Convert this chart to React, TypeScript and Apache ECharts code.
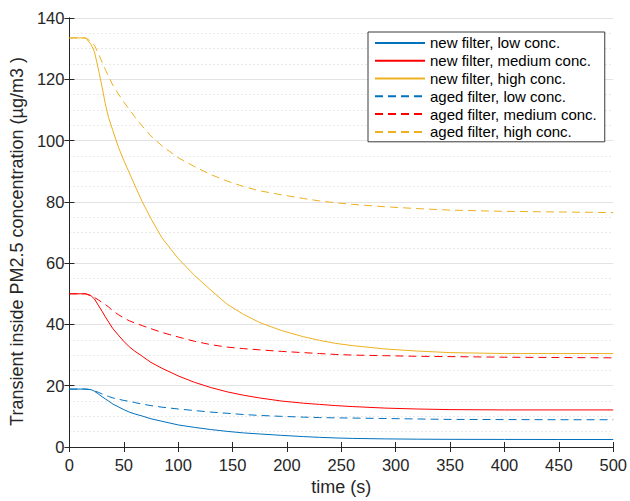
import React, { useEffect, useRef } from "react";
import * as echarts from "echarts";

const times = [0, 15, 20, 23, 27, 30, 33, 36, 40, 45, 50, 55, 60, 67, 75, 85, 100, 115, 130, 145, 160, 175, 195, 215, 230, 245, 260, 290, 320, 350, 400, 450, 500];
const newLow = [18.9, 18.9, 18.7, 18.2, 17.2, 16.4, 15.7, 15.0, 14.0, 13.1, 12.2, 11.4, 10.8, 10.1, 9.2, 8.4, 7.2, 6.4, 5.7, 5.1, 4.6, 4.25, 3.8, 3.4, 3.15, 2.95, 2.8, 2.65, 2.55, 2.5, 2.47, 2.45, 2.45];
const newMed = [50, 50, 49.3, 48.3, 46, 44.3, 42.5, 40.8, 38.6, 36.5, 34.5, 32.7, 31.3, 29.6, 27.6, 25.7, 23.2, 21.1, 19.4, 18, 16.9, 16, 15, 14.3, 13.9, 13.5, 13.2, 12.7, 12.4, 12.2, 12.1, 12.1, 12.1];
const newHigh = [133.5, 133.5, 131.3, 129, 122.7, 117.5, 112, 107.5, 103.2, 97.9, 93.5, 89.5, 85.5, 80, 74.5, 68.3, 61.5, 56, 51.2, 46.6, 43.3, 40.6, 38, 36, 34.8, 33.8, 33.1, 32, 31.3, 30.8, 30.5, 30.5, 30.5];
const agedLow = [18.9, 18.9, 18.7, 18.3, 17.8, 17.3, 16.9, 16.5, 16.0, 15.6, 15.2, 14.9, 14.5, 14.0, 13.5, 13.0, 12.4, 11.9, 11.4, 11.0, 10.6, 10.3, 10.0, 9.75, 9.6, 9.5, 9.45, 9.3, 9.15, 9.0, 8.95, 8.9, 8.9];
const agedMed = [50, 50, 49.4, 48.8, 47.9, 47.2, 46.5, 45.7, 44.4, 43.2, 42.1, 41.2, 40.5, 39.6, 38.6, 37.4, 35.9, 34.5, 33.4, 32.6, 32.1, 31.7, 31.2, 30.8, 30.5, 30.2, 30, 29.8, 29.6, 29.5, 29.3, 29.2, 29.1];
const agedHigh = [133.5, 133.5, 132.3, 131.1, 128.1, 125.6, 123.2, 120.9, 118, 115.2, 112.6, 110.2, 107.8, 104.7, 101.5, 98.3, 94.4, 91.5, 88.9, 86.8, 85, 83.6, 82.3, 81.1, 80.3, 79.7, 79.2, 78.4, 77.8, 77.3, 76.9, 76.7, 76.5];

const seriesNames = [
  "new filter, low conc.",
  "new filter, medium conc.",
  "new filter, high conc.",
  "aged filter, low conc.",
  "aged filter, medium conc.",
  "aged filter, high conc.",
];
const seriesValues = [newLow, newMed, newHigh, agedLow, agedMed, agedHigh];
const seriesColors = ["#0072BD", "#FF0000", "#EDB120", "#0072BD", "#FF0000", "#EDB120"];
const seriesDashed = [false, false, false, true, true, true];

const AX = "#262626";
const FONT = "'Liberation Sans', Arial, Helvetica, sans-serif";

export default function App() {
  const ref = useRef<HTMLDivElement>(null);
  useEffect(() => {
    if (!ref.current) return;
    const chart = echarts.init(ref.current, undefined, { renderer: "svg" });
    const series = seriesNames.map((name, i) => ({
      name,
      type: "line",
      xAxisIndex: 0,
      yAxisIndex: 0,
      symbol: "none",
      smooth: false,
      data: times.map((t, j) => [t, seriesValues[i][j]]),
      lineStyle: {
        color: seriesColors[i],
        width: 1,
        type: seriesDashed[i] ? [8, 5] : "solid",
      },
      itemStyle: { color: seriesColors[i] },
    }));
    const tickCommon = { show: true, inside: true, length: 5, lineStyle: { color: AX, width: 1 } };
    chart.setOption({
      animation: false,
      backgroundColor: "#ffffff",
      textStyle: { fontFamily: FONT },
      grid: { left: 66, right: 13, top: 18, bottom: 49, containLabel: false },
      legend: {
        show: true,
        orient: "vertical",
        left: 368,
        top: 32,
        padding: [2, 8, 1, 6],
        itemWidth: 50,
        itemHeight: 12,
        itemGap: 0,
        backgroundColor: "#ffffff",
        borderColor: "#3a3a3a",
        borderWidth: 1,
        borderRadius: 0,
        itemStyle: { color: "rgba(0,0,0,0)", borderColor: "rgba(0,0,0,0)", borderWidth: 0, opacity: 0 },
        textStyle: { fontSize: 15, color: "#000000", fontFamily: FONT, lineHeight: 17.8 },
        data: seriesNames,
      },
      xAxis: [
        {
          type: "value",
          min: 0,
          max: 500,
          interval: 50,
          name: "time (s)",
          nameLocation: "middle",
          nameGap: 31,
          nameTextStyle: { fontSize: 18, color: AX, fontFamily: FONT },
          axisLine: { show: true, lineStyle: { color: AX, width: 1 } },
          axisTick: tickCommon,
          axisLabel: { fontSize: 16.5, color: AX, margin: 9, fontFamily: FONT },
          splitLine: { show: false },
        },
        {
          type: "value",
          position: "top",
          min: 0,
          max: 500,
          interval: 50,
          axisLine: { show: true, lineStyle: { color: AX, width: 1 } },
          axisTick: tickCommon,
          axisLabel: { show: false },
          splitLine: { show: false },
        },
      ],
      yAxis: [
        {
          type: "value",
          min: 0,
          max: 140,
          interval: 20,
          name: "Transient inside PM2.5 concentration (µg/m3 )",
          nameLocation: "middle",
          nameGap: 41,
          nameTextStyle: { fontSize: 18, color: AX, fontFamily: FONT, padding: [0, 18, 0, 0] },
          axisLine: { show: true, lineStyle: { color: AX, width: 1 } },
          axisTick: tickCommon,
          axisLabel: { fontSize: 16.5, color: AX, margin: 5, fontFamily: FONT },
          splitLine: { show: true, lineStyle: { color: "#e3e3e3", width: 1 } },
          minorTick: { show: false, splitNumber: 4 },
          minorSplitLine: { show: true, lineStyle: { color: "#d4d4d4", width: 1, type: [1, 3] } },
        },
        {
          type: "value",
          position: "right",
          min: 0,
          max: 140,
          interval: 20,
          axisLine: { show: true, lineStyle: { color: AX, width: 1 } },
          axisTick: tickCommon,
          axisLabel: { show: false },
          splitLine: { show: false },
        },
      ],
      series,
    });
    return () => chart.dispose();
  }, []);
  return <div ref={ref} style={{ width: 630, height: 501, position: "absolute", left: 0, top: 0 }} />;
}
